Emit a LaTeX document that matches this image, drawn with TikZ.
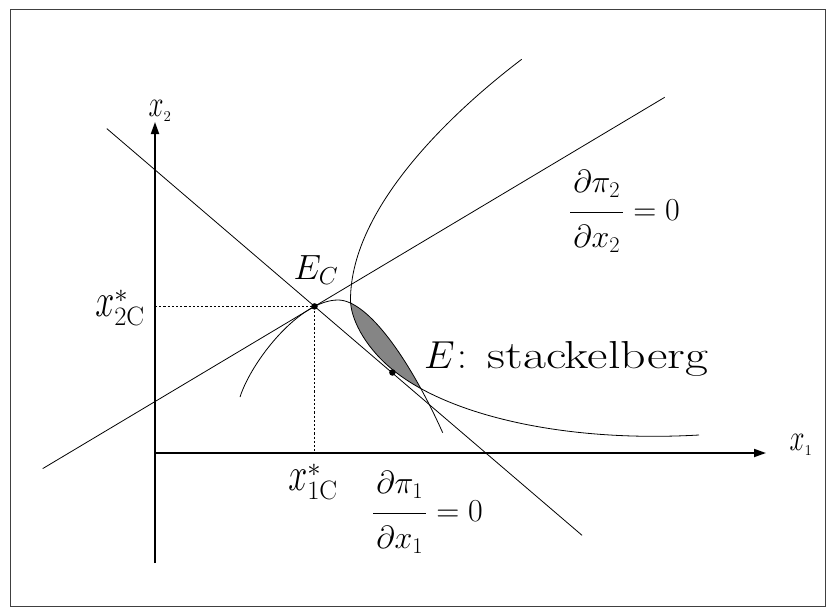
\RequirePackage{fix-cm}
\documentclass[tikz,border=0pt]{standalone}
\usepackage{amsmath}
\usetikzlibrary{arrows.meta}
\newcommand{\myX}{\scalebox{0.9}[1.25]{$x$}}
\tikzset{
  axisline/.style={line width=1.8pt, -{Triangle[length=12pt,width=8pt]}},
  thinline/.style={line width=0.8pt},
  guide/.style={line width=0.8pt, dash pattern=on 2.2pt off 2pt},
  dotpt/.style={circle, fill=black, inner sep=0pt, minimum size=6.5pt},
  lbl/.style={inner sep=0pt},
  lens/.style={fill=black!48},
}
\begin{document}
\begin{tikzpicture}[x=1pt,y=-1pt]
\useasboundingbox (0,0) rectangle (837,615);
\draw[line width=0.9pt, black!75] (10,9) rectangle (825,606);

% named points
\coordinate (O) at (155,453);
\coordinate (Xend) at (766,453);
\coordinate (Ybot) at (155,563);
\coordinate (Yend) at (155,122);
\coordinate (L1a) at (106.8,128.6);
\coordinate (L1b) at (582,535.3);
\coordinate (L2a) at (42.7,468.6);
\coordinate (L2b) at (664.7,97.3);
\coordinate (Ecy) at (155,306.4);
\coordinate (Ecx) at (314.5,453);
\coordinate (Btop) at (521.7,59.3);
\coordinate (Bleft) at (350.5,300);
\coordinate (Btan) at (390,367.5);
\coordinate (Bend) at (699,435);
\coordinate (Sa) at (240,397);
\coordinate (Speak) at (338,300);
\coordinate (Send) at (442.7,432.7);

% shaded lens
\begin{scope}
  \clip (Btop) .. controls (458,107.6) and (350.5,205) .. (Bleft)
        .. controls (350.5,318) and (364,345.3) .. (Btan)
        .. controls (443.2,413.5) and (560,443) .. (Bend)
        -- (837,435) -- (837,50) -- (521.7,50) -- cycle;
  \fill[lens] (Sa) .. controls (252,360) and (300,300) .. (Speak)
        .. controls (368,300) and (410,360) .. (Send)
        -- (442.7,470) -- (240,470) -- cycle;
\end{scope}

% reaction lines
\draw[thinline] (L1a) -- (L1b);
\draw[thinline] (L2a) -- (L2b);

% iso-profit curves
\draw[thinline] (Btop) .. controls (458,107.6) and (350.5,205) .. (Bleft)
        .. controls (350.5,318) and (364,345.3) .. (Btan)
        .. controls (443.2,413.5) and (560,443) .. (Bend);
\draw[thinline] (Sa) .. controls (252,360) and (300,300) .. (Speak)
        .. controls (368,300) and (410,360) .. (Send);

% axes
\draw[axisline] (O) -- (Xend);
\draw[axisline] (Ybot) -- (Yend);

% points
\node[dotpt] (Ec) at (314.5,306.4) {};
\node[dotpt] (E) at (392.4,372.5) {};

% guides
\draw[guide] (Ecy) -- (Ec.center);
\draw[guide] (Ec.center) -- (Ecx);

% labels
\node[lbl] (lx2) at (160,111) {\fontsize{30}{32}\selectfont $\myX_{\scriptscriptstyle 2}$};
\node[lbl] (lx1) at (801,445) {\fontsize{30}{32}\selectfont $\myX_{\scriptscriptstyle 1}$};
\node[lbl] (lEc) at (316,270) {\fontsize{35}{37}\selectfont $E_{C}$};
\node[lbl, anchor=base west] (lE) at (424,368) {\fontsize{39}{41}\selectfont $E$\hspace{3pt}:\hspace{20pt}\scalebox{1.28}[1]{stackelberg}};
\node[lbl] (lx2c) at (120,308) {\fontsize{38}{40}\selectfont $\myX^{*}_{2\mathrm{C}}$};
\node[lbl] (lx1c) at (313,482) {\fontsize{38}{40}\selectfont $\myX^{*}_{1\mathrm{C}}$};
\node[lbl, anchor=base west] (lf2) at (569,220.5) {\fontsize{32}{34}\selectfont $\displaystyle\frac{\hspace{3pt}\raisebox{6pt}{$\displaystyle\partial\pi_{2}$}\hspace{3pt}}{\raisebox{-5.5pt}{$\displaystyle\partial x_{2}$}}=0$};
\node[lbl, anchor=base west] (lf1) at (372,521.5) {\fontsize{32}{34}\selectfont $\displaystyle\frac{\hspace{3pt}\raisebox{6pt}{$\displaystyle\partial\pi_{1}$}\hspace{3pt}}{\raisebox{-5.5pt}{$\displaystyle\partial x_{1}$}}=0$};
\end{tikzpicture}
\end{document}
